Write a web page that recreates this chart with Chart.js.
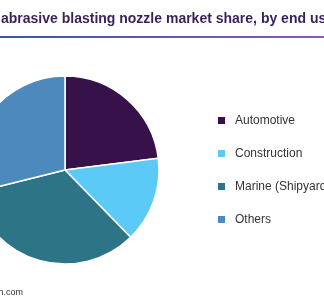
<!DOCTYPE html>
<html>
<head>
<meta charset="utf-8">
<script src="https://cdn.jsdelivr.net/npm/chart.js@4"></script>
<style>
  html, body { margin: 0; padding: 0; background: #fff; overflow: hidden; }
  #wrap { position: relative; width: 324px; height: 300px; overflow: hidden; }
  #wrap canvas { position: absolute; left: -100px; top: 0; }
</style>
</head>
<body>
<div id="wrap"><canvas id="c" width="424" height="300"></canvas></div>
<script>
const categories = ['Automotive', 'Construction', 'Marine (Shipyards)', 'Others'];
const shares = [23.0, 14.7, 33.4, 28.9];
const colors = ['#37114a', '#5bcaf6', '#2d7586', '#4d89bd'];
const titleText = 'abrasive blasting nozzle market share, by end use';
const sourceText = 'www.grandviewresearch.com';

const OX = 100; // canvas is shifted left by this much

const decor = {
  id: 'decor',
  afterDraw(chart) {
    const ctx = chart.ctx;
    ctx.save();
    // title
    ctx.fillStyle = '#3a1f5a';
    ctx.font = 'bold 14px "Liberation Sans", Arial, sans-serif';
    ctx.textBaseline = 'alphabetic';
    ctx.textAlign = 'left';
    ctx.fillText(titleText, OX + 1, 23);
    // rule under title
    const g = ctx.createLinearGradient(OX, 0, OX + 324, 0);
    g.addColorStop(0, '#3d55a6');
    g.addColorStop(1, '#8a5cae');
    ctx.fillStyle = g;
    ctx.fillRect(OX, 36, 324, 2);
    // legend
    ctx.font = '12px "Liberation Sans", Arial, sans-serif';
    ctx.textBaseline = 'middle';
    categories.forEach((label, i) => {
      const y = 120.5 + i * 33;
      ctx.fillStyle = colors[i];
      ctx.fillRect(OX + 218, y - 3.5, 7, 7);
      ctx.fillStyle = '#333333';
      ctx.fillText(label, OX + 235, y);
    });
    // source
    ctx.font = '9px "Liberation Sans", Arial, sans-serif';
    ctx.textAlign = 'right';
    ctx.fillStyle = '#333333';
    ctx.fillText(sourceText, OX + 23, 293);
    ctx.restore();
  }
};

new Chart(document.getElementById('c').getContext('2d'), {
  type: 'pie',
  data: {
    labels: categories,
    datasets: [{
      data: shares,
      backgroundColor: colors,
      borderColor: '#ffffff',
      borderWidth: 1.5
    }]
  },
  options: {
    responsive: false,
    animation: false,
    radius: 94,
    layout: { padding: { left: 71, right: 165, top: 76, bottom: 36 } },
    plugins: {
      legend: { display: false },
      tooltip: { enabled: false }
    }
  },
  plugins: [decor]
});
</script>
</body>
</html>
